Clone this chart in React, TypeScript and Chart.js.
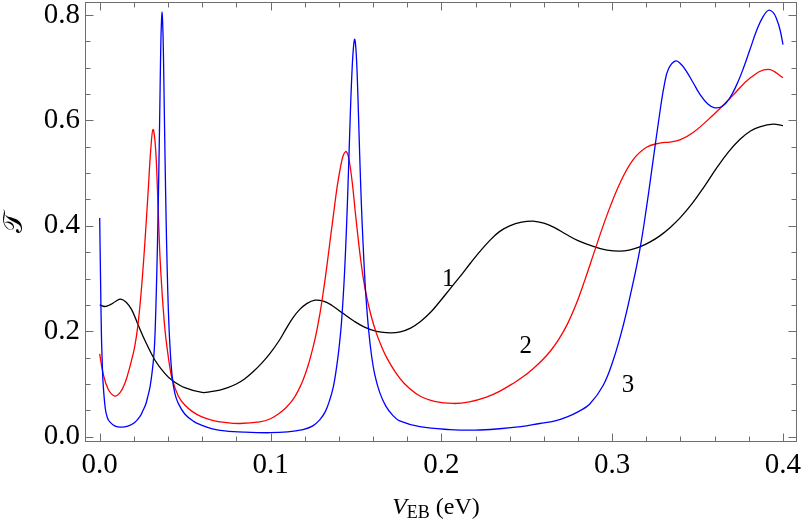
import { useEffect, useRef } from "react";
import { Chart, registerables } from "chart.js";
import type { Plugin } from "chart.js";

Chart.register(...registerables);

// curve 1 (black)
const blackV = [
  0, 0.003, 0.0065, 0.0095, 0.0123, 0.0155, 0.0187, 0.0224, 0.0263, 0.0322,
  0.0381, 0.0424, 0.0498, 0.0599, 0.065, 0.0703, 0.075, 0.08, 0.085, 0.0898,
  0.095, 0.0995, 0.105, 0.109, 0.113, 0.117, 0.121, 0.126, 0.131, 0.136,
  0.142, 0.149, 0.155, 0.162, 0.17, 0.176, 0.182, 0.188, 0.194, 0.199,
  0.205, 0.211, 0.217, 0.2225, 0.228, 0.234, 0.24, 0.247, 0.2537, 0.26,
  0.266, 0.273, 0.28, 0.2898, 0.297, 0.3044, 0.31, 0.3162, 0.322, 0.3279,
  0.334, 0.34, 0.347, 0.354, 0.361, 0.368, 0.3747, 0.381, 0.3864, 0.3942, 0.4,
];
const blackT = [
  0.25, 0.247, 0.251, 0.257, 0.261, 0.255, 0.241, 0.213, 0.184, 0.146,
  0.12, 0.107, 0.093, 0.084, 0.0855, 0.0885, 0.093, 0.1, 0.11, 0.123,
  0.14, 0.157, 0.182, 0.204, 0.225, 0.241, 0.252, 0.259, 0.257, 0.249,
  0.235, 0.219, 0.208, 0.2, 0.197, 0.199, 0.206, 0.219, 0.237, 0.256,
  0.28, 0.304, 0.329, 0.351, 0.371, 0.389, 0.4, 0.407, 0.409, 0.405,
  0.397, 0.384, 0.372, 0.36, 0.354, 0.352, 0.354, 0.36, 0.369, 0.381,
  0.397, 0.416, 0.443, 0.475, 0.509, 0.54, 0.564, 0.58, 0.588, 0.593, 0.59,
];

// curve 2 (red)
const redV = [
  0, 0.002, 0.005, 0.0088, 0.012, 0.0146, 0.0166, 0.0185, 0.0205, 0.0224,
  0.0244, 0.0263, 0.0283, 0.0299, 0.0312, 0.0326, 0.0338, 0.0351, 0.0362, 0.0371,
  0.0383, 0.0396, 0.041, 0.0424, 0.046, 0.0498, 0.0545, 0.0595, 0.066, 0.0732,
  0.082, 0.0937, 0.1, 0.105, 0.109, 0.113, 0.116, 0.119, 0.122, 0.125,
  0.127, 0.129, 0.131, 0.133, 0.135, 0.137, 0.139, 0.141, 0.1425, 0.144,
  0.1452, 0.1465, 0.148, 0.1495, 0.151, 0.1525, 0.154, 0.156, 0.159, 0.162,
  0.165, 0.168, 0.173, 0.178, 0.187, 0.196, 0.2069, 0.2164, 0.2264, 0.234,
  0.242, 0.248, 0.2537, 0.259, 0.264, 0.269, 0.274, 0.279, 0.284, 0.2898,
  0.2967, 0.3044, 0.3122, 0.3201, 0.3279, 0.334, 0.3396, 0.3474, 0.359, 0.3708,
  0.3806, 0.3913, 0.4,
];
const redT = [
  0.157, 0.12, 0.09, 0.077, 0.084, 0.1, 0.12, 0.143, 0.171, 0.212,
  0.279, 0.361, 0.462, 0.545, 0.583, 0.552, 0.47, 0.355, 0.29, 0.247,
  0.2, 0.165, 0.133, 0.11, 0.077, 0.06, 0.047, 0.038, 0.031, 0.027,
  0.025, 0.028, 0.034, 0.044, 0.055, 0.07, 0.086, 0.107, 0.135, 0.171,
  0.2, 0.235, 0.277, 0.324, 0.375, 0.425, 0.474, 0.512, 0.533, 0.541,
  0.536, 0.515, 0.478, 0.43, 0.385, 0.343, 0.307, 0.27, 0.228, 0.196,
  0.171, 0.15, 0.123, 0.102, 0.078, 0.067, 0.063, 0.066, 0.075, 0.086,
  0.101, 0.114, 0.129, 0.145, 0.163, 0.186, 0.215, 0.252, 0.297, 0.353,
  0.418, 0.48, 0.525, 0.549, 0.557, 0.559, 0.563, 0.577, 0.61, 0.648,
  0.68, 0.697, 0.681,
];

// curve 3 (blue)
const blueV = [
  0, 0.0005, 0.001, 0.0015, 0.002, 0.0033, 0.0045, 0.0059, 0.009, 0.0127,
  0.0165, 0.0205, 0.0235, 0.0254, 0.027, 0.0283, 0.0295, 0.0306, 0.0316, 0.0322,
  0.0328, 0.0335, 0.0341, 0.0347, 0.0353, 0.0356, 0.0359, 0.0362, 0.0365, 0.0368,
  0.0371, 0.0374, 0.0377, 0.0383, 0.0389, 0.0395, 0.0402, 0.041, 0.0424, 0.044,
  0.0459, 0.0498, 0.055, 0.0595, 0.066, 0.0732, 0.085, 0.0995, 0.11, 0.119,
  0.1245, 0.1288, 0.132, 0.1347, 0.1368, 0.1386, 0.1401, 0.1415, 0.143, 0.1444,
  0.1456, 0.1468, 0.1478, 0.1486, 0.1493, 0.15, 0.1507, 0.1515, 0.1522, 0.1532,
  0.1542, 0.1552, 0.1561, 0.1575, 0.1591, 0.161, 0.1639, 0.1675, 0.1717, 0.1756,
  0.1874, 0.205, 0.22, 0.234, 0.2465, 0.2576, 0.2666, 0.2733, 0.2805, 0.2869,
  0.2947, 0.3006, 0.3064, 0.3113, 0.3162, 0.3201, 0.324, 0.3279, 0.3305, 0.333,
  0.3372, 0.3405, 0.3435, 0.3475, 0.3513, 0.356, 0.36, 0.3645, 0.3689, 0.3728,
  0.3766, 0.3805, 0.3845, 0.388, 0.3915, 0.3942, 0.3962, 0.3982, 0.4,
];
const blueT = [
  0.415, 0.3, 0.196, 0.14, 0.101, 0.053, 0.036, 0.028, 0.02, 0.018,
  0.02, 0.027, 0.038, 0.05, 0.062, 0.078, 0.095, 0.12, 0.15, 0.18,
  0.235, 0.32, 0.41, 0.52, 0.645, 0.71, 0.76, 0.79, 0.806, 0.79,
  0.76, 0.71, 0.645, 0.52, 0.41, 0.32, 0.24, 0.18, 0.115, 0.082,
  0.064, 0.043, 0.029, 0.022, 0.015, 0.011, 0.0085, 0.0075, 0.009, 0.0135,
  0.02, 0.032, 0.047, 0.07, 0.095, 0.13, 0.168, 0.215, 0.29, 0.39,
  0.5, 0.62, 0.7, 0.74, 0.754, 0.735, 0.69, 0.61, 0.535, 0.44,
  0.365, 0.3, 0.255, 0.2, 0.155, 0.118, 0.084, 0.058, 0.04, 0.03,
  0.019, 0.0135, 0.0125, 0.015, 0.019, 0.025, 0.03, 0.037, 0.048, 0.062,
  0.097, 0.145, 0.21, 0.278, 0.355, 0.435, 0.525, 0.615, 0.667, 0.698,
  0.713, 0.706, 0.693, 0.671, 0.65, 0.631, 0.624, 0.627, 0.643, 0.667,
  0.697, 0.733, 0.77, 0.795, 0.809, 0.805, 0.793, 0.773, 0.744,
];

const xMajorTicks = [0, 0.1, 0.2, 0.3, 0.4];
const xMinorTicks = [0.02, 0.04, 0.06, 0.08, 0.12, 0.14, 0.16, 0.18, 0.22, 0.24, 0.26, 0.28, 0.32, 0.34, 0.36, 0.38];
const yMajorTicks = [0, 0.2, 0.4, 0.6, 0.8];
const yMinorTicks = [0.05, 0.1, 0.15, 0.25, 0.3, 0.35, 0.45, 0.5, 0.55, 0.65, 0.7, 0.75];

const curveLabels = ["1", "2", "3"];
const labelV = [0.204, 0.2494, 0.3093];
const labelT = [0.298, 0.171, 0.098];

const serif = '"Liberation Serif", "Times New Roman", serif';
const frameColor = "#6e6e6e";

const toPoints = (vs: number[], ts: number[]) => vs.map((x, i) => ({ x, y: ts[i] }));

const framePlugin: Plugin<"line"> = {
  id: "mmaFrame",
  afterDatasetsDraw(chart) {
    const { ctx, chartArea: a, scales } = chart;
    const xs = scales.x;
    const ys = scales.y;
    const L = Math.round(a.left) + 0.5;
    const R = Math.round(a.right) - 0.5;
    const T = Math.round(a.top) + 0.5;
    const B = Math.round(a.bottom) - 0.5;

    ctx.save();
    ctx.strokeStyle = frameColor;
    ctx.lineWidth = 1;
    ctx.strokeRect(L, T, R - L, B - T);

    ctx.beginPath();
    const xTick = (v: number, len: number) => {
      const px = Math.round(xs.getPixelForValue(v)) + 0.5;
      ctx.moveTo(px, B);
      ctx.lineTo(px, B - len);
      ctx.moveTo(px, T);
      ctx.lineTo(px, T + len);
    };
    const yTick = (v: number, len: number) => {
      const py = Math.round(ys.getPixelForValue(v)) + 0.5;
      ctx.moveTo(L, py);
      ctx.lineTo(L + len, py);
      ctx.moveTo(R, py);
      ctx.lineTo(R - len, py);
    };
    xMajorTicks.forEach((v) => xTick(v, 8));
    xMinorTicks.forEach((v) => xTick(v, 5));
    yMajorTicks.forEach((v) => yTick(v, 8));
    yMinorTicks.forEach((v) => yTick(v, 5));
    ctx.stroke();

    // curve numbers
    ctx.fillStyle = "#000";
    ctx.font = `25px ${serif}`;
    ctx.textAlign = "center";
    ctx.textBaseline = "middle";
    curveLabels.forEach((s, i) => {
      ctx.fillText(s, xs.getPixelForValue(labelV[i]), ys.getPixelForValue(labelT[i]));
    });

    // x title: V_EB (eV)
    const big = `24px ${serif}`;
    const bigItalic = `italic 24px ${serif}`;
    const sub = `18px ${serif}`;
    ctx.textAlign = "left";
    ctx.textBaseline = "alphabetic";
    ctx.font = bigItalic;
    const wV = ctx.measureText("V").width;
    ctx.font = sub;
    const wSub = ctx.measureText("EB").width;
    ctx.font = big;
    const wRest = ctx.measureText(" (eV)").width;
    const total = wV + wSub + wRest;
    let x0 = (a.left + a.right) / 2 - 5 - total / 2;
    const base = chart.height - 10.5;
    ctx.font = bigItalic;
    ctx.fillText("V", x0, base);
    x0 += wV;
    ctx.font = sub;
    ctx.fillText("EB", x0, base + 4);
    x0 += wSub;
    ctx.font = big;
    ctx.fillText(" (eV)", x0, base);

    // y title (script T)
    ctx.save();
    ctx.translate(15, (a.top + a.bottom) / 2);
    ctx.rotate(-Math.PI / 2);
    ctx.textAlign = "center";
    ctx.textBaseline = "middle";
    ctx.font = `27px "DejaVu Serif", "DejaVu Sans", ${serif}`;
    ctx.fillText("\u{1D4AF}", 0, 0);
    ctx.restore();

    ctx.restore();
  },
};

export default function App() {
  const canvasRef = useRef<HTMLCanvasElement | null>(null);

  useEffect(() => {
    if (!canvasRef.current) return;

    const tickFont = { family: serif, size: 29 };

    const chart = new Chart(canvasRef.current, {
      type: "line",
      data: {
        datasets: [
          { label: "3", data: toPoints(blueV, blueT), borderColor: "#0000ff", order: 0 },
          { label: "2", data: toPoints(redV, redT), borderColor: "#ff0000", order: 1 },
          { label: "1", data: toPoints(blackV, blackT), borderColor: "#000000", order: 2 },
        ],
      },
      options: {
        responsive: true,
        maintainAspectRatio: false,
        animation: false,
        layout: { padding: { left: 0, right: 4, top: 2, bottom: 0 } },
        elements: {
          point: { radius: 0, hoverRadius: 0 },
          line: { borderWidth: 1.3, tension: 0.4, fill: false },
        },
        plugins: {
          legend: { display: false },
          tooltip: { enabled: false },
        },
        scales: {
          x: {
            type: "linear",
            min: -0.0086,
            max: 0.4082,
            grid: { display: false, drawTicks: false },
            border: { display: false },
            ticks: {
              font: tickFont,
              color: "#000",
              padding: 6,
              maxRotation: 0,
              autoSkip: false,
              callback: (v) => Number(v).toFixed(1),
            },
            afterBuildTicks: (s) => {
              s.ticks = xMajorTicks.map((value) => ({ value }));
            },
            afterFit: (s) => {
              s.height = 82;
              s.paddingLeft = 0;
              s.paddingRight = 0;
            },
          },
          y: {
            type: "linear",
            min: -0.0101,
            max: 0.8247,
            grid: { display: false, drawTicks: false },
            border: { display: false },
            ticks: {
              font: tickFont,
              color: "#000",
              padding: 5,
              autoSkip: false,
              callback: (v) => Number(v).toFixed(1),
            },
            afterBuildTicks: (s) => {
              s.ticks = yMajorTicks.map((value) => ({ value }));
            },
            afterFit: (s) => {
              s.width = 85;
              s.paddingTop = 0;
              s.paddingBottom = 0;
            },
          },
        },
      },
      plugins: [framePlugin],
    });

    return () => chart.destroy();
  }, []);

  return (
    <div style={{ position: "fixed", left: 0, top: 0, width: 801, height: 524, background: "#fff" }}>
      <canvas ref={canvasRef} aria-label="Transmission vs V_EB" />
    </div>
  );
}
